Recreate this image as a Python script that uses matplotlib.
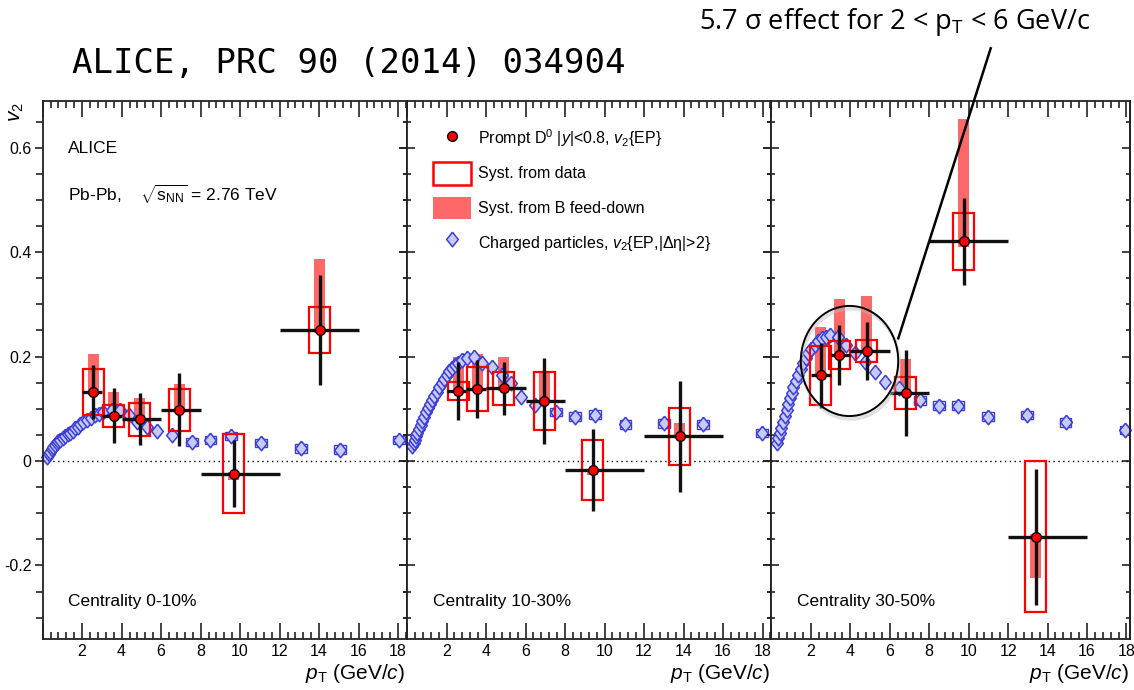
import numpy as np
import matplotlib
matplotlib.use("Agg")
import matplotlib.pyplot as plt
from matplotlib.patches import Rectangle, Ellipse, Patch
from matplotlib.lines import Line2D
from matplotlib.ticker import MultipleLocator, FuncFormatter

plt.rcParams["font.family"] = ["Liberation Sans", "DejaVu Sans"]
plt.rcParams["mathtext.fontset"] = "custom"
plt.rcParams["mathtext.rm"] = "Liberation Sans"
plt.rcParams["mathtext.it"] = "Liberation Sans:italic"
plt.rcParams["mathtext.default"] = "regular"

# ── D0 v2, ALICE Pb-Pb 2.76 TeV ───────────────────────────────
centralities = ["0-10%", "10-30%", "30-50%"]
bin_lo = np.array([2, 3, 4, 6, 8, 12])
bin_hi = np.array([3, 4, 6, 8, 12, 16])

d0_pt_0_10 = [2.57, 3.59, 4.91, 6.92, 9.68, 14.03]
d0_v2_0_10 = [0.132, 0.087, 0.080, 0.098, -0.024, 0.251]
stat_0_10 = [0.052, 0.052, 0.050, 0.070, 0.064, 0.106]
syst_0_10 = [0.044, 0.021, 0.032, 0.040, 0.075, 0.044]
fd_lo_0_10 = [0.126, 0.084, 0.077, 0.094, -0.036, 0.245]
fd_hi_0_10 = [0.205, 0.133, 0.120, 0.147, -0.022, 0.386]

d0_pt_10_30 = [2.59, 3.56, 4.90, 6.94, 9.40, 13.81]
d0_v2_10_30 = [0.134, 0.138, 0.139, 0.115, -0.017, 0.047]
stat_10_30 = [0.056, 0.056, 0.051, 0.082, 0.078, 0.106]
syst_10_30 = [0.018, 0.042, 0.032, 0.055, 0.057, 0.054]
fd_lo_10_30 = [0.130, 0.134, 0.135, 0.112, -0.026, 0.045]
fd_hi_10_30 = [0.200, 0.205, 0.200, 0.172, -0.016, 0.073]

d0_pt_30_50 = [2.50, 3.45, 4.83, 6.81, 9.76, 13.41]
d0_v2_30_50 = [0.164, 0.203, 0.211, 0.130, 0.421, -0.145]
stat_30_50 = [0.063, 0.058, 0.055, 0.083, 0.083, 0.130]
syst_30_50 = [0.057, 0.026, 0.021, 0.031, 0.055, 0.145]
fd_lo_30_50 = [0.160, 0.198, 0.206, 0.127, 0.410, -0.225]
fd_hi_30_50 = [0.257, 0.310, 0.317, 0.195, 0.656, -0.140]

# ── charged-particle v2{EP,|dEta|>2} ──────────────────────────
ch_pt_0_10 = [0.21, 0.30, 0.38, 0.46, 0.55, 0.63, 0.72, 0.80, 0.88, 1.01,
              1.14, 1.27, 1.39, 1.52, 1.64, 1.77, 1.90, 2.07, 2.24, 2.45,
              2.66, 2.87, 3.08, 3.50, 3.93, 4.35, 4.78, 5.28, 5.79, 6.55,
              7.57, 8.50, 9.55, 11.04, 13.07, 15.05, 18.03]
ch_v2_0_10 = [0.008, 0.013, 0.018, 0.023, 0.027, 0.031, 0.035, 0.038, 0.040, 0.044,
              0.047, 0.051, 0.054, 0.058, 0.063, 0.066, 0.070, 0.075, 0.079, 0.083,
              0.088, 0.091, 0.094, 0.098, 0.098, 0.088, 0.075, 0.066, 0.058, 0.050,
              0.037, 0.040, 0.048, 0.035, 0.024, 0.022, 0.040]

ch_pt_10_30 = [0.26, 0.33, 0.40, 0.47, 0.53, 0.62, 0.70, 0.78, 0.87, 0.97,
               1.07, 1.17, 1.27, 1.38, 1.50, 1.62, 1.75, 1.87, 2.00, 2.13,
               2.26, 2.43, 2.60, 2.81, 3.02, 3.40, 3.81, 4.29, 4.80, 5.27,
               5.78, 6.49, 7.54, 8.52, 9.53, 11.06, 13.00, 14.98, 17.99]
ch_v2_10_30 = [0.028, 0.034, 0.040, 0.047, 0.053, 0.061, 0.069, 0.077, 0.085, 0.093,
               0.101, 0.109, 0.117, 0.125, 0.133, 0.141, 0.149, 0.157, 0.165, 0.172,
               0.178, 0.183, 0.188, 0.193, 0.197, 0.200, 0.187, 0.181, 0.165, 0.149,
               0.123, 0.107, 0.094, 0.085, 0.089, 0.070, 0.072, 0.070, 0.054]

ch_pt_30_50 = [0.26, 0.34, 0.43, 0.51, 0.60, 0.68, 0.77, 0.85, 0.94, 1.02,
               1.10, 1.23, 1.36, 1.48, 1.61, 1.73, 1.86, 2.03, 2.20, 2.37,
               2.54, 2.75, 2.96, 3.38, 3.80, 4.23, 4.73, 5.24, 5.75, 6.46,
               7.52, 8.50, 9.48, 10.96, 12.94, 14.91, 17.95]
ch_v2_30_50 = [0.034, 0.044, 0.053, 0.064, 0.075, 0.087, 0.098, 0.109, 0.120, 0.131,
               0.142, 0.154, 0.165, 0.176, 0.187, 0.197, 0.206, 0.214, 0.222, 0.229,
               0.235, 0.238, 0.241, 0.238, 0.222, 0.206, 0.190, 0.171, 0.152, 0.139,
               0.116, 0.106, 0.106, 0.085, 0.088, 0.074, 0.060]

d0_pt = [d0_pt_0_10, d0_pt_10_30, d0_pt_30_50]
d0_v2 = [d0_v2_0_10, d0_v2_10_30, d0_v2_30_50]
d0_stat = [stat_0_10, stat_10_30, stat_30_50]
d0_syst = [syst_0_10, syst_10_30, syst_30_50]
fd_lo = [fd_lo_0_10, fd_lo_10_30, fd_lo_30_50]
fd_hi = [fd_hi_0_10, fd_hi_10_30, fd_hi_30_50]
ch_pt = [ch_pt_0_10, ch_pt_10_30, ch_pt_30_50]
ch_v2 = [ch_v2_0_10, ch_v2_10_30, ch_v2_30_50]

# ── style ─────────────────────────────────────────────────────
RED = "#ff0000"
SALMON = "#ff6868"
CH_EDGE = "#3c3cdc"
CH_FILL = "#c6cbf5"
BOX_HALF = 0.53
FD_HALF = 0.28
CH_BOX_HALF = 0.3
CH_BOX_H = 0.008
diamond = [(0, 1), (0.8, 0), (0, -1), (-0.8, 0), (0, 1)]

W, H = 1134, 690
fig = plt.figure(figsize=(W / 100, H / 100), dpi=100)

# pad geometry in pixels: left edge, width, upper x limit
ax_left_px = [42.6, 407.0, 771.4]
ax_w_px = [364.4, 364.4, 359.0]
x_max = [18.45, 18.45, 18.2]
ax_top_px, ax_bot_px = 100.8, 638.5


def y_fmt(v, _):
    if abs(v) < 1e-9:
        return "0"
    return f"{v:.1f}" if v > 0 else f"-{abs(v):.1f}"


axes = []
for i in range(3):
    ax = fig.add_axes([ax_left_px[i] / W, 1 - ax_bot_px / H,
                       ax_w_px[i] / W, (ax_bot_px - ax_top_px) / H])
    axes.append(ax)
    ax.set_xlim(0, x_max[i])
    ax.set_ylim(-0.34, 0.69)

    pt = np.array(d0_pt[i])
    v2 = np.array(d0_v2[i])

    # B feed-down band (filled) sits underneath everything
    for x, lo, hi in zip(pt, fd_lo[i], fd_hi[i]):
        ax.add_patch(Rectangle((x - FD_HALF, lo), 2 * FD_HALF, hi - lo,
                               facecolor=SALMON, edgecolor="none", zorder=1))

    # charged-particle syst boxes at high pT, then the diamonds
    for x, v in zip(ch_pt[i], ch_v2[i]):
        if x > 7:
            ax.add_patch(Rectangle((x - CH_BOX_HALF, v - CH_BOX_H), 2 * CH_BOX_HALF,
                                   2 * CH_BOX_H, fill=False, edgecolor=CH_EDGE,
                                   lw=1.0, zorder=2))
    ax.plot(ch_pt[i], ch_v2[i], ls="none", marker=diamond, ms=10.5,
            mfc=CH_FILL, mec=CH_EDGE, mew=1.1, zorder=2, clip_on=False)

    # systematics from data: open red boxes
    for x, v, s in zip(pt, v2, d0_syst[i]):
        ax.add_patch(Rectangle((x - BOX_HALF, v - s), 2 * BOX_HALF, 2 * s,
                               fill=False, edgecolor=RED, lw=1.6, zorder=3))

    ax.errorbar(pt, v2, yerr=d0_stat[i], xerr=[pt - bin_lo, bin_hi - pt],
                fmt="none", ecolor="#111111", elinewidth=2.4, capsize=0, zorder=4)
    ax.plot(pt, v2, ls="none", marker="o", ms=7, mfc=RED, mec="black",
            mew=1.0, zorder=5)

    ax.axhline(0, color="black", lw=1.0, ls=(0, (1, 2.5)), zorder=0.5)

    # axis cosmetics
    for sp in ax.spines.values():
        sp.set_linewidth(1.3)
        sp.set_color("#222222")
    ax.xaxis.set_major_locator(MultipleLocator(2))
    ax.xaxis.set_minor_locator(MultipleLocator(0.4))
    ax.yaxis.set_major_locator(MultipleLocator(0.2))
    ax.yaxis.set_minor_locator(MultipleLocator(0.05))
    ax.xaxis.set_major_formatter(FuncFormatter(lambda v, _: "" if v < 1 else f"{v:.0f}"))
    ax.tick_params(axis="x", which="both", direction="in", top=True, bottom=True,
                   width=1.2, color="#222222", labelsize=11.5, pad=4)
    ax.tick_params(axis="x", which="major", length=11.5)
    ax.tick_params(axis="x", which="minor", length=5)

    ydir = "out" if i == 0 else "inout"
    ax.tick_params(axis="y", which="both", direction=ydir, right=False,
                   width=1.2, color="#222222", labelsize=11.5, pad=2)
    ax.tick_params(axis="y", which="major", length=6 if i == 0 else 11.5)
    ax.tick_params(axis="y", which="minor", length=5 if i == 0 else 6)
    if i == 0:
        ax.yaxis.set_major_formatter(FuncFormatter(y_fmt))
    else:
        ax.tick_params(axis="y", labelleft=False)

    # right-hand ticks pointing inwards
    sec = ax.secondary_yaxis("right")
    sec.spines["right"].set_linewidth(1.3)
    sec.spines["right"].set_color("#222222")
    sec.yaxis.set_major_locator(MultipleLocator(0.2))
    sec.yaxis.set_minor_locator(MultipleLocator(0.05))
    sec.tick_params(which="both", direction="in", labelright=False,
                    width=1.2, color="#222222")
    sec.tick_params(which="major", length=5.5)
    sec.tick_params(which="minor", length=3)

    ax.text(0.995, -0.066, r"$\mathit{p}_{T}$ (GeV/$\mathit{c}$)", transform=ax.transAxes,
            ha="right", va="center", fontsize=15)
    ax.text(0.071, 0.068, f"Centrality {centralities[i]}", transform=ax.transAxes,
            ha="left", va="center", fontsize=12.5)

axes[0].text(0.07, 0.912, "ALICE", transform=axes[0].transAxes,
             ha="left", va="center", fontsize=12.5)
axes[0].text(0.07, 0.825, r"Pb-Pb,    $\sqrt{s_{NN}}$ = 2.76 TeV",
             transform=axes[0].transAxes, ha="left", va="center", fontsize=12.5)

fig.text(16 / W, 1 - 112 / H, r"$\mathit{v}_2$", rotation=90,
         ha="center", va="center", fontsize=15)

# legend in the middle panel
handles = [
    Line2D([], [], ls="none", marker="o", ms=7, mfc=RED, mec="black", mew=1.0),
    Patch(facecolor="none", edgecolor=RED, lw=1.8),
    Patch(facecolor=SALMON, edgecolor="none"),
    Line2D([], [], ls="none", marker=diamond, ms=10.5, mfc=CH_FILL, mec=CH_EDGE, mew=1.1),
]
labels = [
    r"Prompt D$^0$ |$\mathit{y}$|<0.8, $\mathit{v}_2${EP}",
    "Syst. from data",
    "Syst. from B feed-down",
    r"Charged particles, $\mathit{v}_2${EP,|Δη|>2}",
]
axes[1].legend(handles, labels, loc="upper left", bbox_to_anchor=(0.071, 0.951),
               frameon=False, fontsize=11.5, handlelength=2.4, handleheight=1.8,
               handletextpad=0.4, labelspacing=0.75, borderpad=0, borderaxespad=0)

# highlight of the 2-6 GeV/c region in 30-50%
axes[2].add_patch(Ellipse((4.02, 0.186), 4.94, 0.211, fill=False,
                          edgecolor="#bbbbbb", lw=2.5, alpha=0.45, zorder=6))
axes[2].add_patch(Ellipse((3.96, 0.1916), 4.94, 0.211, fill=False,
                          edgecolor="black", lw=1.4, zorder=7))
fig.add_artist(Line2D([898.3 / W, 990.7 / W], [1 - 338.3 / H, 1 - 48.3 / H],
                      color="black", lw=1.8, zorder=10))

fig.text(895 / W, 1 - 22 / H, r"5.7 σ effect for 2 < p$_{T}$ < 6 GeV/c",
         ha="center", va="center", fontsize=19.5,
         family=["Liberation Sans Narrow", "Open Sans", "DejaVu Sans"])
fig.text(72 / W, 1 - 64 / H, "ALICE, PRC 90 (2014) 034904",
         ha="left", va="center", fontsize=24.5, family="DejaVu Sans Mono")

fig.savefig("out.png", dpi=100)
